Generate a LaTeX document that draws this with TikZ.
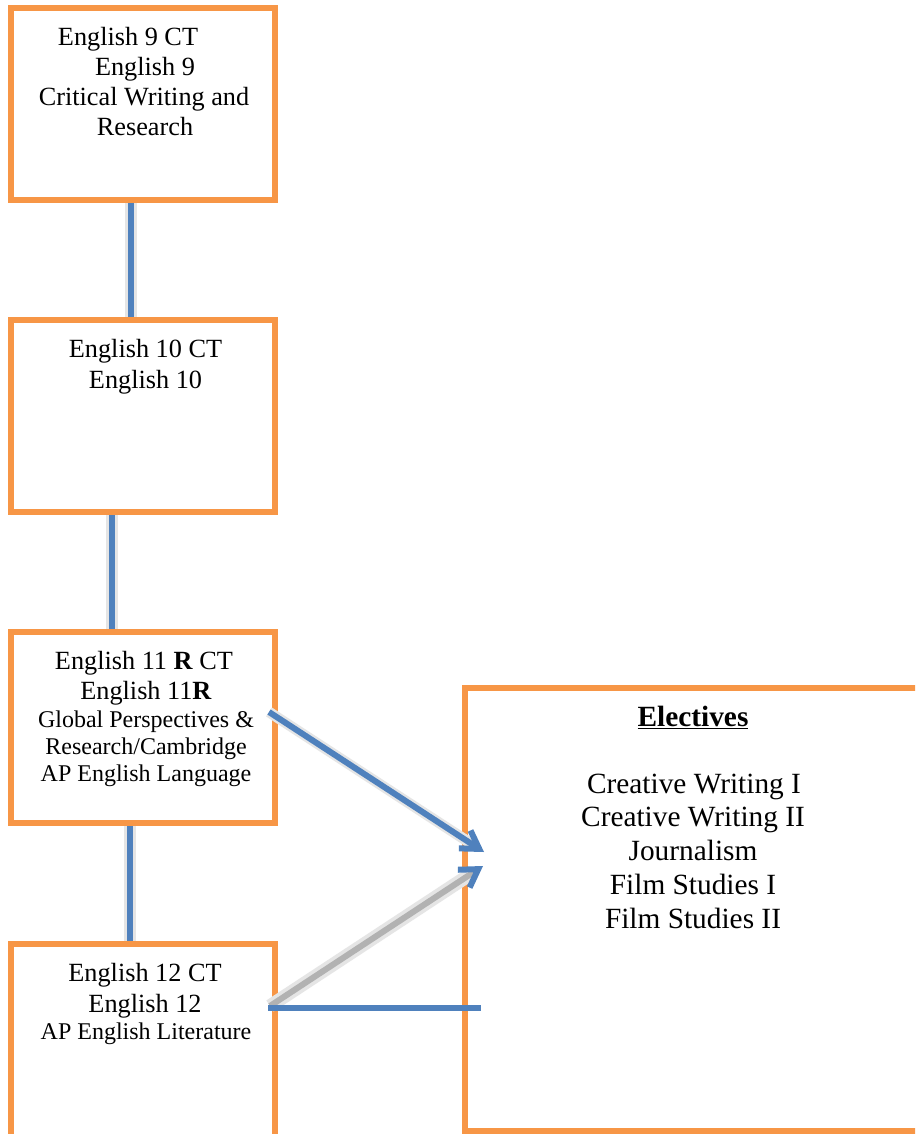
\documentclass[tikz,border=0pt]{standalone}
\usepackage{fontspec}
\setmainfont{Liberation Serif}
\usetikzlibrary{arrows.meta,calc}
\definecolor{aorange}{HTML}{F79646}
\definecolor{ablue}{HTML}{4F81BD}
\begin{document}
\begin{tikzpicture}[x=0.75pt,y=-0.75pt,
  box/.style={draw=aorange,line width=4.5pt,fill=white,inner sep=0pt},
  conn/.style={draw=ablue,line width=4.5pt},
  shad/.style={draw=black!25,line width=5pt,xshift=-4.5pt,yshift=-3pt},
  shadw/.style={draw=black!10,line width=9pt,xshift=-4.5pt,yshift=-3pt},
  barb/.style={-{Straight Barb[length=13pt,width=16pt,line width=4.5pt,color=ablue]}},
  t/.style={anchor=base,inner sep=0pt,font=\fontsize{19.7}{22}\selectfont},
  ts/.style={anchor=base,inner sep=0pt,font=\fontsize{18}{20}\selectfont},
  te/.style={anchor=base,inner sep=0pt,font=\fontsize{22}{25}\selectfont}]
\useasboundingbox (0,0) rectangle (915,1134);
\clip (0,0) rectangle (915,1134);
\fill[white] (0,0) rectangle (915,1134);

% boxes
\node[box,minimum width=198pt,minimum height=144pt] (b1) at (143,104) {};
\node[box,minimum width=198pt,minimum height=144pt] (b2) at (143,416) {};
\node[box,minimum width=198pt,minimum height=143.25pt] (b3) at (143,727.5) {};
\node[box,minimum width=198pt,minimum height=150pt] (b4) at (143,1044) {};
\node[box,minimum width=342pt,minimum height=332.25pt] (el) at (693,909.5) {};

% texts box 1
\node[t] (t1a) at (128,45.5) {English 9 CT};
\node[t] (t1b) at (145,75.5) {English 9};
\node[t] (t1c) at (144,105.5) {Critical Writing and};
\node[t] (t1d) at (145,136) {Research};
% box 2
\node[t] (t2a) at (145.5,357) {English 10 CT};
\node[t] (t2b) at (145.5,388) {English 10};
% box 3
\node[t] (t3a) at (144,669) {English 11 \textbf{R} CT};
\node[t] (t3b) at (146,699) {English 11\textbf{R}};
\node[ts] (t3c) at (146,727) {Global Perspectives \&};
\node[ts] (t3d) at (146,754) {Research/Cambridge};
\node[ts] (t3e) at (146,781) {AP English Language};
% box 4
\node[t] (t4a) at (145,981) {English 12 CT};
\node[t] (t4b) at (145,1012) {English 12};
\node[ts] (t4c) at (146,1039) {AP English Literature};
% electives
\node[te] (e0) at (693,726) {\underline{\textbf{Electives}}};
\node[te] (e1) at (694,793) {Creative Writing I};
\node[te] (e2) at (693,826) {Creative Writing II};
\node[te] (e3) at (693,860) {Journalism};
\node[te] (e4) at (693,894) {Film Studies I};
\node[te] (e5) at (693,928) {Film Studies II};

% connector x positions
\coordinate (x1) at (131,0);
\coordinate (x2) at (112,0);
\coordinate (x3) at (130,0);

% vertical connectors with shadows
\foreach \a/\b/\x in {b1/b2/x1,b2/b3/x2,b3/b4/x3}{
  \draw[shadw] (\a.south -| \x) -- (\b.north -| \x);
  \draw[shad] (\a.south -| \x) -- (\b.north -| \x);
  \draw[conn] (\a.south -| \x) -- (\b.north -| \x);
}

% arrow 1
\coordinate (a1s) at (269,712);
\coordinate (a1e) at (484,852);
\draw[draw=black!10,line width=8pt,xshift=1pt,yshift=-2pt,shorten >=12pt] (a1s) -- (a1e);
\draw[conn,barb] (a1s) -- (a1e);

% arrow 2 (grey shaft, blue head)
\coordinate (a2s) at (270,1006);
\coordinate (a2e) at (483,866);
\draw[draw=black!10,line width=10pt,shorten >=12pt] (a2s) -- (a2e);
\draw[draw=black!30,line width=4.5pt,barb] (a2s) -- (a2e);

% horizontal line
\coordinate (h1) at (268,1008);
\coordinate (h2) at (481,1008);
\draw[conn] (h1) -- (h2);
\end{tikzpicture}
\end{document}
